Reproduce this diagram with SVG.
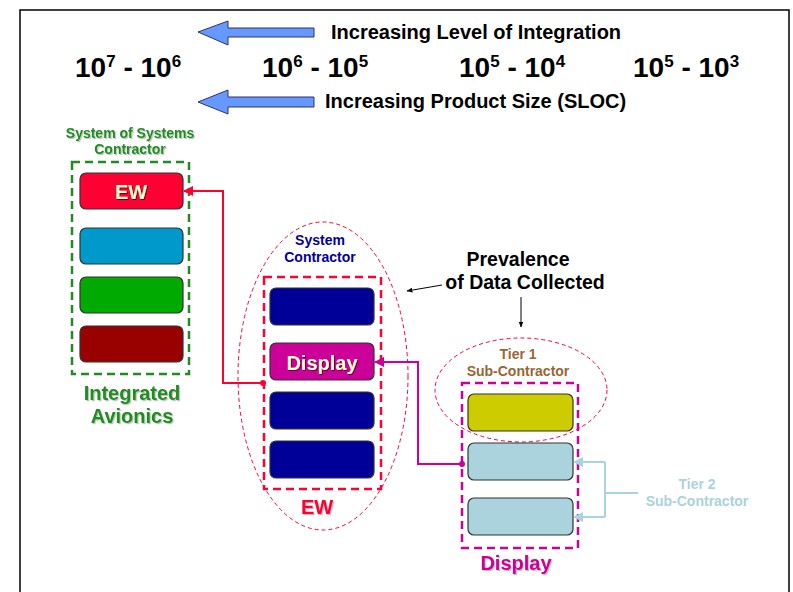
<svg xmlns="http://www.w3.org/2000/svg" width="793" height="592" viewBox="0 0 793 592">
<defs>
<style>
text{font-family:"Liberation Sans",Arial,sans-serif;font-weight:bold;}
.hdr{font-size:20px;fill:#000;}
.num{font-size:28px;fill:#000;}
.sup{font-size:17px;}
.box{stroke:#333;stroke-width:1.2;}
.lbl12{font-size:14px;text-anchor:middle;}
.big{font-size:20px;text-anchor:middle;}
.inlbl{font-size:20px;fill:#ffffcc;text-anchor:middle;}
.ell{fill:none;stroke:#ff0033;stroke-width:1;stroke-dasharray:4,3;}
</style>
<filter id="sh" x="-10%" y="-10%" width="130%" height="140%">
<feDropShadow dx="1.2" dy="1.2" stdDeviation="0.4" flood-color="#000" flood-opacity="0.25"/>
</filter>
<filter id="shd" x="-10%" y="-10%" width="130%" height="140%">
<feDropShadow dx="1" dy="1" stdDeviation="0.3" flood-color="#000" flood-opacity="0.6"/>
</filter>
<marker id="mR" viewBox="0 0 10 10" refX="9" refY="5" markerWidth="5" markerHeight="5" orient="auto"><path d="M0,0 L10,5 L0,10 z" fill="#ff0033"/></marker>
<marker id="mM" viewBox="0 0 10 10" refX="9" refY="5" markerWidth="5" markerHeight="5" orient="auto"><path d="M0,0 L10,5 L0,10 z" fill="#cc0099"/></marker>
<marker id="mB" viewBox="0 0 10 10" refX="9" refY="5" markerWidth="5" markerHeight="5" orient="auto"><path d="M0,0 L10,5 L0,10 z" fill="#a8d4df"/></marker>
<marker id="mK" viewBox="0 0 10 10" refX="9" refY="5" markerWidth="6" markerHeight="6" orient="auto"><path d="M0,1 L10,5 L0,9 z" fill="#000"/></marker>
</defs>
<rect width="793" height="592" fill="#fff"/>
<path d="M20,600 V10 H789 V600" fill="none" stroke="#000" stroke-width="1.5"/>

<g id="header">
<polygon points="198,32 228,21 228,28 314,28 314,37 228,37 228,45" fill="#6699ff" stroke="#333366" stroke-width="1"/>
<text class="hdr" x="331" y="39">Increasing Level of Integration</text>
<polygon points="198,102 228,90 228,97 314,97 314,107 228,107 228,114" fill="#6699ff" stroke="#333366" stroke-width="1"/>
<text class="hdr" x="325" y="108">Increasing Product Size (SLOC)</text>
<text class="num" x="75" y="77">10<tspan class="sup" dy="-10">7</tspan><tspan dy="10"> - 10</tspan><tspan class="sup" dy="-10">6</tspan></text>
<text class="num" x="262" y="77">10<tspan class="sup" dy="-10">6</tspan><tspan dy="10"> - 10</tspan><tspan class="sup" dy="-10">5</tspan></text>
<text class="num" x="459" y="77">10<tspan class="sup" dy="-10">5</tspan><tspan dy="10"> - 10</tspan><tspan class="sup" dy="-10">4</tspan></text>
<text class="num" x="633" y="77">10<tspan class="sup" dy="-10">5</tspan><tspan dy="10"> - 10</tspan><tspan class="sup" dy="-10">3</tspan></text>
</g>

<g id="sos">
<text class="lbl12" x="130" y="138" fill="#228b22" filter="url(#sh)">System of Systems</text>
<text class="lbl12" x="130" y="154" fill="#228b22" filter="url(#sh)">Contractor</text>
<rect x="72" y="162" width="117" height="212" fill="none" stroke="#228b22" stroke-width="2.5" stroke-dasharray="8,5"/>
<text class="big" x="132" y="400" fill="#228b22" filter="url(#sh)">Integrated</text>
<text class="big" x="132" y="423" fill="#228b22" filter="url(#sh)">Avionics</text>
</g>
<g id="sos-ew">
<rect class="box" x="80" y="173" width="103" height="36" rx="6" fill="#ff0033"/>
<text class="inlbl" x="131" y="199" filter="url(#shd)">EW</text>
</g>
<g id="sos-blue"><rect class="box" x="80" y="228" width="103" height="36" rx="6" fill="#0099cc"/></g>
<g id="sos-green"><rect class="box" x="80" y="277" width="103" height="36" rx="6" fill="#00aa00"/></g>
<g id="sos-darkred"><rect class="box" x="80" y="326" width="103" height="36" rx="6" fill="#990000"/></g>

<g id="sysc">
<ellipse class="ell" cx="323" cy="376" rx="85" ry="154"/>
<text class="lbl12" x="320" y="245" fill="#000099">System</text>
<text class="lbl12" x="320" y="262" fill="#000099">Contractor</text>
<rect x="264" y="277" width="117" height="212" fill="none" stroke="#ff0033" stroke-width="2.5" stroke-dasharray="8,5"/>
<text class="big" x="317" y="514" fill="#ff0033" filter="url(#sh)">EW</text>
</g>
<g id="sys-1"><rect class="box" x="270" y="288" width="104" height="37" rx="6" fill="#000099"/></g>
<g id="sys-display">
<rect class="box" x="270" y="343" width="104" height="37" rx="6" fill="#cc0099"/>
<text class="inlbl" x="322" y="370" filter="url(#shd)">Display</text>
</g>
<g id="sys-3"><rect class="box" x="270" y="392" width="104" height="37" rx="6" fill="#000099"/></g>
<g id="sys-4"><rect class="box" x="270" y="441" width="104" height="37" rx="6" fill="#000099"/></g>

<g id="prevalence">
<text x="518" y="266" font-size="19.5" text-anchor="middle" fill="#000">Prevalence</text>
<text x="525" y="289" font-size="19.5" text-anchor="middle" fill="#000">of Data Collected</text>
</g>

<g id="tier1">
<ellipse class="ell" cx="521" cy="390" rx="86" ry="52"/>
<text class="lbl12" x="518" y="359" fill="#996633">Tier 1</text>
<text class="lbl12" x="518" y="376" fill="#996633">Sub-Contractor</text>
<rect x="462" y="383" width="116" height="165" fill="none" stroke="#cc0099" stroke-width="2.5" stroke-dasharray="8,5"/>
<text class="big" x="516" y="570" fill="#cc0099" filter="url(#sh)">Display</text>
</g>
<g id="t1-yellow"><rect class="box" x="468" y="394" width="105" height="37" rx="6" fill="#cccc00"/></g>
<g id="t1-lb1"><rect class="box" x="468" y="443" width="105" height="37" rx="6" fill="#aad3dd"/></g>
<g id="t1-lb2"><rect class="box" x="468" y="498" width="105" height="37" rx="6" fill="#aad3dd"/></g>

<g id="tier2">
<text class="lbl12" x="697" y="489" fill="#aad3dd">Tier 2</text>
<text class="lbl12" x="697" y="506" fill="#aad3dd">Sub-Contractor</text>
</g>

<g id="connectors" fill="none">
<path d="M263,383 H223 V191 H184" stroke="#ff0033" stroke-width="2" marker-end="url(#mR)"/>
<circle cx="263" cy="383" r="3" fill="#ff0033"/>
<path d="M462,464 H418 V362 H375" stroke="#cc0099" stroke-width="2" marker-end="url(#mM)"/>
<circle cx="462" cy="464" r="3" fill="#cc0099"/>
<path d="M605,462 V517" stroke="#a8d4df" stroke-width="2"/>
<path d="M605,462 H574" stroke="#a8d4df" stroke-width="2" marker-end="url(#mB)"/>
<path d="M605,517 H574" stroke="#a8d4df" stroke-width="2" marker-end="url(#mB)"/>
<path d="M605,493 H638" stroke="#a8d4df" stroke-width="2"/>
<path d="M442,285 L407,291" stroke="#000" stroke-width="1" marker-end="url(#mK)"/>
<path d="M521,297 V327" stroke="#000" stroke-width="1" marker-end="url(#mK)"/>
</g>
</svg>
